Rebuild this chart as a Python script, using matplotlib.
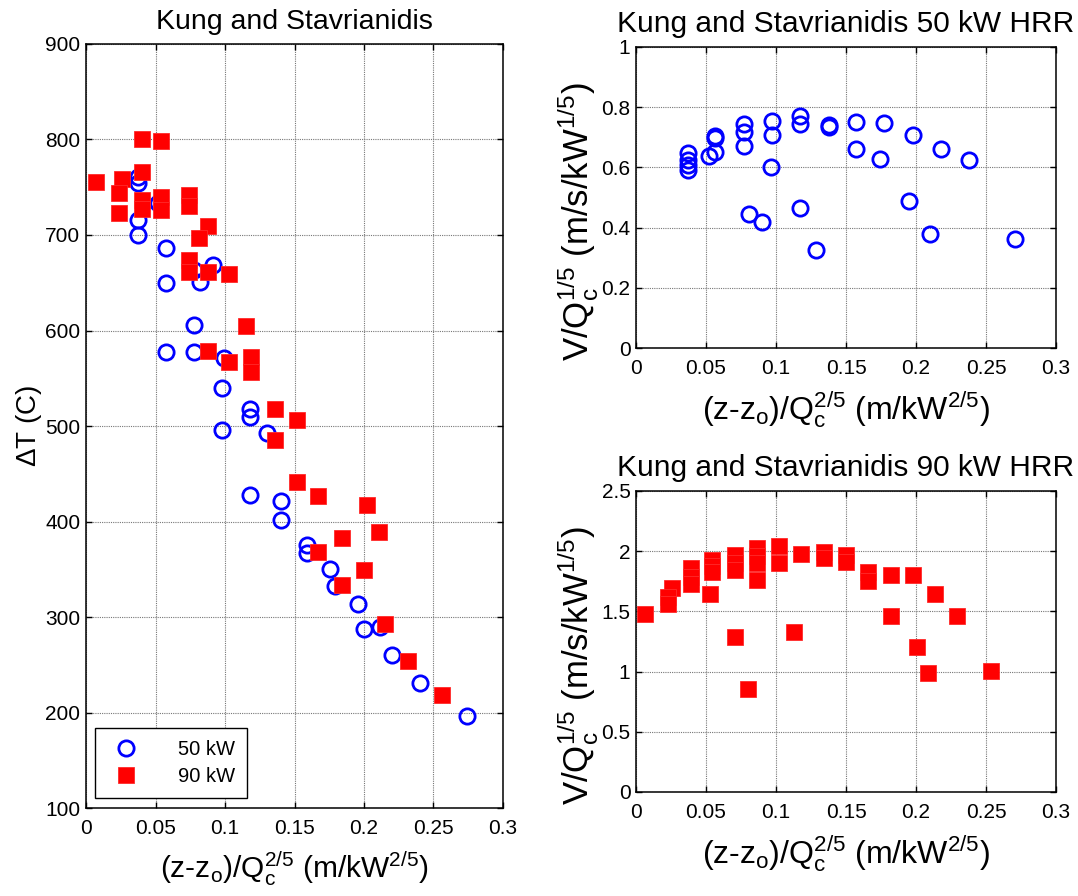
import matplotlib
matplotlib.use('Agg')
import matplotlib.pyplot as plt
from matplotlib.ticker import FormatStrFormatter
import numpy as np

plt.rcParams['font.family'] = ['Liberation Sans', 'DejaVu Sans']
plt.rcParams['mathtext.default'] = 'regular'

# temperature rise vs scaled height, 50 kW
x50_dt = [0.0377, 0.0377, 0.0377, 0.0377, 0.052, 0.0576, 0.0576, 0.0576,
          0.078, 0.082, 0.091, 0.078, 0.078, 0.099, 0.0976, 0.118, 0.118,
          0.098, 0.130, 0.118, 0.14, 0.14, 0.159, 0.159, 0.1755, 0.179,
          0.196, 0.200, 0.2115, 0.220, 0.240, 0.274]
dt50 = [761, 754, 716, 700, 733, 686, 650, 577,
        663, 651, 669, 606, 577, 571, 540, 518, 509,
        496, 493, 428, 421, 402, 375, 367, 350, 332,
        314, 287, 290, 260, 231, 196]

# temperature rise vs scaled height, 90 kW
x90_dt = [0.0072, 0.040, 0.054, 0.026, 0.0237, 0.0237, 0.040, 0.040, 0.040,
          0.054, 0.054, 0.074, 0.074, 0.088, 0.081, 0.074, 0.074, 0.088,
          0.103, 0.115, 0.088, 0.103, 0.119, 0.119, 0.136, 0.152, 0.136,
          0.152, 0.167, 0.202, 0.184, 0.211, 0.167, 0.200, 0.184, 0.215,
          0.232, 0.256]
dt90 = [756, 800, 798, 759, 744, 723, 766, 737, 727,
        740, 726, 742, 730, 709, 697, 674, 661, 661,
        659, 605, 579, 567, 572, 557, 518, 506, 485,
        441, 427, 417, 383, 389, 368, 349, 334, 293,
        254, 218]

# velocity, 50 kW
x50_v = [0.0369, 0.0369, 0.0369, 0.0369, 0.0524, 0.0564, 0.0564, 0.0564,
         0.0774, 0.0774, 0.0774, 0.081, 0.090, 0.0962, 0.0974, 0.0974,
         0.117, 0.117, 0.117, 0.1286, 0.138, 0.138, 0.157, 0.157, 0.174,
         0.1774, 0.1948, 0.198, 0.2098, 0.2179, 0.2376, 0.271]
v50 = [0.648, 0.626, 0.609, 0.592, 0.639, 0.703, 0.696, 0.650,
       0.745, 0.716, 0.670, 0.446, 0.417, 0.600, 0.753, 0.707,
       0.770, 0.745, 0.466, 0.324, 0.742, 0.734, 0.752, 0.661, 0.629,
       0.748, 0.487, 0.709, 0.380, 0.661, 0.623, 0.363]

# velocity, 90 kW
x90_v = [0.0067, 0.0255, 0.0231, 0.0231, 0.039, 0.039, 0.039, 0.054, 0.054,
         0.054, 0.0529, 0.0707, 0.0707, 0.0707, 0.0707, 0.0798, 0.0867,
         0.0867, 0.0867, 0.0867, 0.102, 0.102, 0.113, 0.118, 0.134, 0.134,
         0.150, 0.150, 0.166, 0.166, 0.182, 0.182, 0.198, 0.2005, 0.2086,
         0.2133, 0.2295, 0.2538]
v90 = [1.476, 1.69, 1.62, 1.56, 1.856, 1.787, 1.73, 1.93, 1.88,
       1.83, 1.64, 1.97, 1.90, 1.84, 1.288, 0.853, 2.03,
       1.96, 1.90, 1.76, 2.04, 1.90, 1.33, 1.98, 1.99, 1.94,
       1.97, 1.91, 1.83, 1.75, 1.80, 1.46, 1.80, 1.205, 0.989,
       1.64, 1.46, 1.003]

xlabel = r'(z-z$_o$)/Q$_c^{2/5}$ (m/kW$^{2/5}$)'
vlabel = r'V/Q$_c^{1/5}$ (m/s/kW$^{1/5}$)'

circ = dict(marker='o', linestyle='none', ms=11, mfc='none', mec='blue', mew=2)
sq = dict(marker='s', linestyle='none', ms=11, mfc='red', mec='#ff2a2a', mew=0.6)


def matlab_axes(ax, yticks, ylim):
    ax.set_xlim(0, 0.3)
    ax.set_ylim(*ylim)
    ax.set_xticks(np.arange(0, 0.301, 0.05))
    ax.set_yticks(yticks)
    ax.xaxis.set_major_formatter(FormatStrFormatter('%g'))
    ax.yaxis.set_major_formatter(FormatStrFormatter('%g'))
    ax.tick_params(direction='in', length=4, width=1, top=True, right=True,
                   labelsize=15)
    ax.tick_params(axis='x', pad=8)
    ax.tick_params(axis='y', pad=4)
    ax.grid(True, color='#777777', linestyle=(0, (1, 1)), linewidth=0.8)
    for s in ax.spines.values():
        s.set_linewidth(1.1)


fig = plt.figure(figsize=(10.78, 8.96), dpi=100)

ax1 = fig.add_axes([0.0798, 0.0982, 0.3868, 0.8527])
ax1.plot(x50_dt, dt50, label='50 kW', **circ)
ax1.plot(x90_dt, dt90, label='90 kW', **sq)
matlab_axes(ax1, np.arange(100, 901, 100), (100, 900))
ax1.set_title('Kung and Stavrianidis', fontsize=20.5, pad=11)
ax1.set_xlabel(xlabel, fontsize=21.5, labelpad=8)
ax1.set_ylabel(r'$\Delta$T (C)', fontsize=20, labelpad=1)
leg = ax1.legend(loc='lower left', bbox_to_anchor=(0.0216, 0.013),
                 borderaxespad=0, fontsize=14.5,
                 fancybox=False, edgecolor='black', framealpha=1,
                 borderpad=0.6, handletextpad=1.6, handlelength=1.9,
                 labelspacing=0.4)
leg.get_frame().set_linewidth(1.0)

ax2 = fig.add_axes([0.590, 0.6116, 0.3896, 0.336])
ax2.plot(x50_v, v50, **circ)
matlab_axes(ax2, np.arange(0, 1.01, 0.2), (0, 1))
ax2.set_title('Kung and Stavrianidis 50 kW HRR', fontsize=21.5, pad=11)
ax2.set_xlabel(xlabel, fontsize=23, labelpad=8)
ax2.set_ylabel(vlabel, fontsize=25)
ax2.yaxis.set_label_coords(-0.085, 0.42)

ax3 = fig.add_axes([0.590, 0.1161, 0.3896, 0.336])
ax3.plot(x90_v, v90, **sq)
matlab_axes(ax3, np.arange(0, 2.51, 0.5), (0, 2.5))
ax3.set_title('Kung and Stavrianidis 90 kW HRR', fontsize=21.5, pad=11)
ax3.set_xlabel(xlabel, fontsize=23, labelpad=8)
ax3.set_ylabel(vlabel, fontsize=25)
ax3.yaxis.set_label_coords(-0.085, 0.42)

fig.savefig('out.png', dpi=100)
